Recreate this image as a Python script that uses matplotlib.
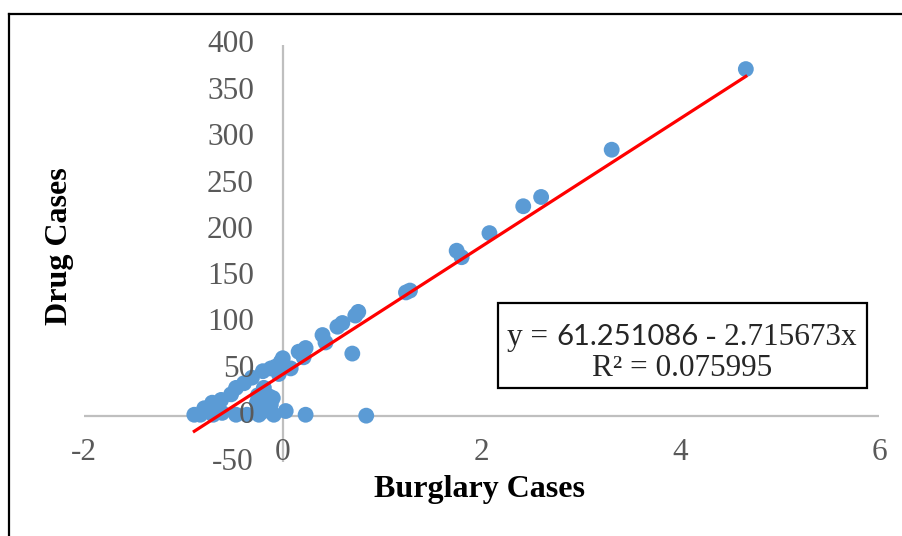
import matplotlib.pyplot as plt
from matplotlib.lines import Line2D
from matplotlib.patches import Rectangle

# values
burglary = [4.66, 3.31, 2.60, 2.42, 2.08, 1.75, 1.80, 1.24, 1.28,
            0.76, 0.73, 0.60, 0.55, 0.40, 0.43, 0.23, 0.16, 0.21, 0.70,
            0.00, -0.07, 0.08, -0.04, -0.10,
            -0.89, -0.79, -0.71, -0.62, -0.52, -0.47, -0.39, -0.31, -0.20, -0.12, -0.02,
            -0.26, -0.14, -0.19, -0.12, -0.19, -0.25,
            -0.83, -0.61, -0.47, -0.24, -0.09, 0.03, 0.23, 0.84, -0.70, -0.36]
drug = [374, 287, 236, 226, 197, 178, 171, 133, 135,
        112, 108, 100, 96, 87, 79, 73, 69, 63, 67,
        62, 53, 51, 45, 19,
        1, 8, 14, 17, 23, 30, 35, 41, 48, 51, 58,
        14, 21, 5, 12, 30, 22,
        1, 3, 1, 1, 1, 5, 1, 0, 1, 1]

x_ticks = [-2, 0, 2, 4, 6]
y_ticks = [-50, 0, 50, 100, 150, 200, 250, 300, 350, 400]

trend_intercept = 44.6
trend_slope = 69.0

eq_parts = ["y = ", "61.251086", " - 2.715673x"]
eq_line2 = "R\u00b2 = 0.075995"

W, H = 903, 536
serif = "Liberation Serif"
grey = "#595959"

fig = plt.figure(figsize=(W / 100, H / 100), dpi=100)
ax = fig.add_axes([84 / W, (H - 462) / H, (879 - 84) / W, (462 - 45) / H])
ax.set_xlim(-2, 6)
ax.set_ylim(-50, 400)
ax.axis("off")

ax.axhline(0, color="#BFBFBF", lw=1.6, zorder=1)
ax.axvline(0, color="#BFBFBF", lw=1.6, zorder=1)

ax.scatter(burglary, drug, s=130, color="#5B9BD5", edgecolors="none",
           zorder=3, clip_on=False)

x0, x1 = min(burglary), max(burglary)
ax.plot([x0, x1], [trend_intercept + trend_slope * x0, trend_intercept + trend_slope * x1],
        color="#FF0000", lw=2.3, zorder=4, clip_on=False)

for v in y_ticks:
    ax.text(-0.29, v, str(v), ha="right", va="center", fontsize=22.5,
            family=serif, color=grey)
for v in x_ticks:
    ax.text(v, -40, str(v), ha="center", va="center", fontsize=22.5,
            family=serif, color=grey, clip_on=False)

fig.text(480 / W, 1 - 497 / H, "Burglary Cases", ha="center", va="baseline",
         fontsize=23, weight="bold", family=serif)
fig.text(60 / W, 1 - 246 / H, "Drug Cases", ha="center", va="center",
         rotation=90, fontsize=23, weight="bold", family=serif)

# equation box
fig.add_artist(Rectangle((498 / W, 1 - 388 / H), (867 - 498) / W, (388 - 303) / H,
                         transform=fig.transFigure, fill=False, ec="black", lw=1.6))

renderer = fig.canvas.get_renderer()
fonts = [serif, "Lato", serif]
sizes = [22.5, 21, 22.5]
pieces = []
for txt, fam, fs in zip(eq_parts, fonts, sizes):
    t = fig.text(0, 1 - 345 / H, txt, ha="left", va="baseline", fontsize=fs,
                 family=fam, color="#262626")
    pieces.append(t)
widths = [p.get_window_extent(renderer).width for p in pieces]
start = 682 - sum(widths) / 2
for p, w in zip(pieces, widths):
    p.set_x(start / W)
    start += w

fig.text(682 / W, 1 - 376 / H, eq_line2, ha="center", va="baseline", fontsize=22.5,
         family=serif, color="#262626")

# outer frame, only top and left edges fall inside the picture
fig.add_artist(Line2D([9 / W, 9 / W], [0, 1 - 14 / H], transform=fig.transFigure,
                      color="black", lw=1.6))
fig.add_artist(Line2D([9 / W, 1], [1 - 14 / H, 1 - 14 / H], transform=fig.transFigure,
                      color="black", lw=1.6))

fig.savefig("out.png", dpi=100)
